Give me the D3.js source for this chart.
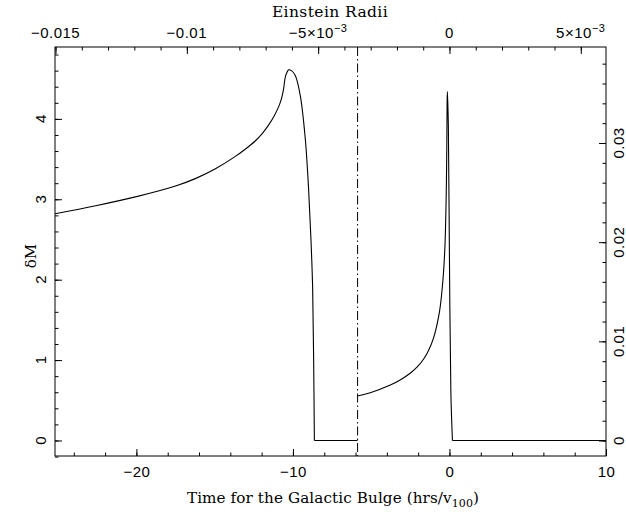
<!DOCTYPE html>
<html><head><meta charset="utf-8">
<script src="https://cdn.jsdelivr.net/npm/d3@7"></script>
<style>
html,body{margin:0;padding:0;background:#fff;}
svg{display:block;}
</style>
</head><body>
<svg id="chart" width="626" height="512"></svg>
<script>
// ---- data ----
const preTime = [-25.2, -22.6, -20.06, -17.5, -16.2, -14.95, -13.7, -13.05, -12.41, -11.95, -11.57, -11.19, -10.91, -10.74, -10.6, -10.49, -10.4, -10.27, -10.1, -9.85, -9.53, -9.21, -9.0, -8.85, -8.74, -8.68, -8.63];
const preDM   = [2.82, 2.92, 3.03, 3.165, 3.26, 3.38, 3.53, 3.622, 3.725, 3.82, 3.919, 4.04, 4.152, 4.245, 4.37, 4.52, 4.57, 4.61, 4.60, 4.54, 4.29, 3.75, 3.13, 2.51, 1.89, 1.06, 0.0];
const gapTime = [-8.63, -5.87];
const gapDM   = [0, 0];
const postTime = [-5.87, -5.06, -3.78, -3.15, -2.51, -2.06, -1.66, -1.36, -1.02, -0.64, -0.42, -0.29, -0.21, -0.17, -0.15, -0.13, -0.07, 0.0, 0.09, 0.19];
const postDM   = [0.553, 0.594, 0.69, 0.753, 0.836, 0.915, 1.011, 1.11, 1.273, 1.60, 1.99, 2.41, 3.03, 3.65, 4.23, 4.34, 3.9, 2.24, 0.59, 0.0];
const tailTime = [0.19, 10];
const tailDM   = [0, 0];
const causticTime = -5.87;

const bottomMajor = [-20, -10, 0, 10];
const bottomMinor = d3.range(-24, 10.01, 2);
const topMajor = [-0.015, -0.01, -0.005, 0, 0.005];
const topLabels = [["\u22120.015", null], ["\u22120.01", null], ["\u22125\u00d710", "\u22123"], ["0", null], ["5\u00d710", "\u22123"]];
const topMinor = d3.range(-0.015, 0.0055, 0.001);
const leftMajor = [0, 1, 2, 3, 4];
const leftMinor = d3.range(-0.2, 4.85, 0.2);
const rightMajor = [0, 0.01, 0.02, 0.03];
const rightLabels = ["0", "0.01", "0.02", "0.03"];
const rightMinor = d3.range(0, 0.0395, 0.002);

// ---- layout ----
const L = 55, R = 606, T = 47, B = 456;
const svg = d3.select("#chart");
const x = d3.scaleLinear().domain([-25.2, 10]).range([L, R]);
const xTop = d3.scaleLinear().domain([-0.01502, 0.00596]).range([L, R]);
const y = d3.scaleLinear().domain([-0.193, 4.894]).range([B, T]);
const yR = d3.scaleLinear().domain([-0.00156, 0.03968]).range([B, T]);

const sans = "'Liberation Sans', Arial, sans-serif";
const serif = "'DejaVu Serif', serif";
const FS = 15, LS = 0.5;

function axisG(axis, tx, ty) {
  const g = svg.append("g").attr("transform", `translate(${tx},${ty})`).call(axis);
  g.select(".domain").remove();
  g.selectAll(".tick line").attr("stroke", "#000").attr("stroke-width", 1);
  return g;
}
// bottom
axisG(d3.axisBottom(x).tickValues(bottomMinor).tickSize(-3.5).tickFormat(""), 0, B);
const gb = axisG(d3.axisBottom(x).tickValues(bottomMajor).tickSize(-7).tickPadding(10)
  .tickFormat(d => d < 0 ? "\u2212" + Math.abs(d) : String(d)), 0, B);
gb.selectAll("text").attr("font-family", sans).attr("font-size", FS).attr("letter-spacing", LS).attr("fill", "#000");
// top
axisG(d3.axisTop(xTop).tickValues(topMinor).tickSize(-3.5).tickFormat(""), 0, T);
axisG(d3.axisTop(xTop).tickValues(topMajor).tickSize(-7).tickFormat(""), 0, T);
topMajor.forEach((v, i) => {
  const t = svg.append("text").attr("x", xTop(v)).attr("y", 38)
    .attr("text-anchor", "middle").attr("font-family", sans).attr("font-size", FS).attr("letter-spacing", LS);
  t.append("tspan").text(topLabels[i][0]);
  if (topLabels[i][1]) t.append("tspan").attr("dy", -6).attr("font-size", 11).text(topLabels[i][1]);
});
// left
axisG(d3.axisLeft(y).tickValues(leftMinor).tickSize(-3.5).tickFormat(""), L, 0);
axisG(d3.axisLeft(y).tickValues(leftMajor).tickSize(-7).tickFormat(""), L, 0);
leftMajor.forEach(v => {
  svg.append("text").attr("transform", `translate(46,${y(v)}) rotate(-90)`)
    .attr("text-anchor", "middle").attr("font-family", sans).attr("font-size", FS).text(String(v));
});
// right
axisG(d3.axisRight(yR).tickValues(rightMinor).tickSize(-3.5).tickFormat(""), R, 0);
axisG(d3.axisRight(yR).tickValues(rightMajor).tickSize(-7).tickFormat(""), R, 0);
rightMajor.forEach((v, i) => {
  svg.append("text").attr("transform", `translate(624,${yR(v)}) rotate(-90)`)
    .attr("text-anchor", "middle").attr("font-family", sans).attr("font-size", FS)
    .attr("letter-spacing", LS).text(rightLabels[i]);
});

// frame
svg.append("rect").attr("x", L).attr("y", T).attr("width", R - L).attr("height", B - T)
  .attr("fill", "none").attr("stroke", "#000").attr("stroke-width", 1);

// axis titles
svg.append("text").attr("x", 330).attr("y", 17).attr("text-anchor", "middle")
  .attr("font-family", serif).attr("font-size", 15.5).attr("letter-spacing", 0.4).text("Einstein Radii");
const xt = svg.append("text").attr("x", 333).attr("y", 503).attr("text-anchor", "middle")
  .attr("font-family", serif).attr("font-size", 15.2).attr("letter-spacing", 0.1);
xt.append("tspan").text("Time for the Galactic Bulge (hrs/v");
xt.append("tspan").attr("dy", 4).attr("font-size", 11).text("100");
xt.append("tspan").attr("dy", -4).text(")");
svg.append("text").attr("transform", `translate(36,256) rotate(-90)`).attr("text-anchor", "middle")
  .attr("font-family", serif).attr("font-size", 15).text("\u03b4M");

// curves
const line = d3.line().x(d => x(d[0])).y(d => y(d[1])).curve(d3.curveCatmullRom.alpha(0.5));
const lin = d3.line().x(d => x(d[0])).y(d => y(d[1]));
const g = svg.append("g").attr("fill", "none").attr("stroke", "#000").attr("stroke-width", 1.1);
g.append("path").attr("d", line(preTime.map((t, i) => [t, preDM[i]])));
g.append("path").attr("d", lin(gapTime.map((t, i) => [t, gapDM[i]])));
g.append("path").attr("d", line(postTime.map((t, i) => [t, postDM[i]])));
g.append("path").attr("d", lin(tailTime.map((t, i) => [t, tailDM[i]])));
// caustic marker
svg.append("line").attr("x1", x(causticTime)).attr("x2", x(causticTime)).attr("y1", T).attr("y2", B)
  .attr("stroke", "#000").attr("stroke-width", 1).attr("stroke-dasharray", "9,3,1.5,3");
</script>
</body></html>
